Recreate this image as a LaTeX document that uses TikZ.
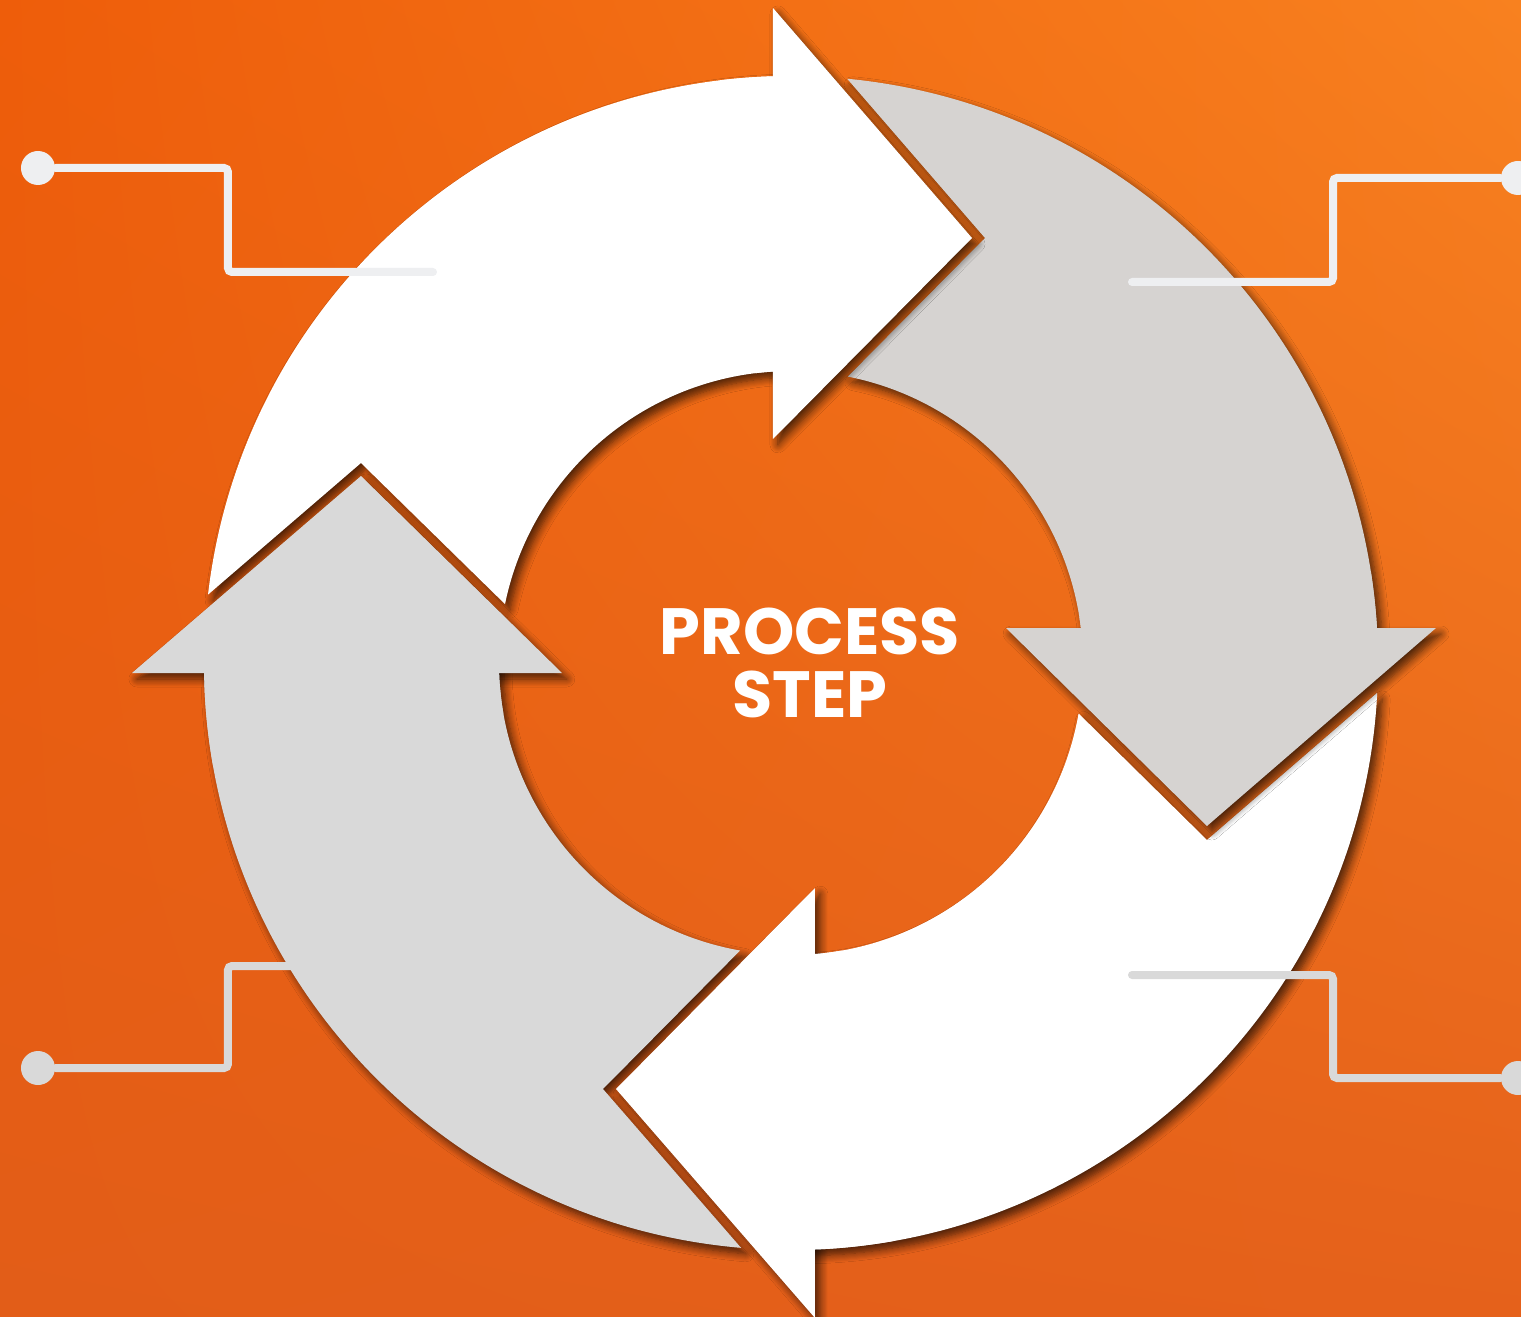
\documentclass[tikz,border=0pt]{standalone}
\usepackage{fontspec}
\newfontfamily\stepfont{Poppins}
\usetikzlibrary{shadings,shadows.blur}
\definecolor{bgtl}{HTML}{EE5D0A}
\definecolor{bgtr}{HTML}{F8811F}
\definecolor{bgbl}{HTML}{E25D18}
\definecolor{bgbr}{HTML}{E5611B}
\definecolor{warmgray}{HTML}{D6D3D1}
\definecolor{coolgray}{HTML}{D9D9D9}
\definecolor{lighttrace}{HTML}{EEEFF1}
\definecolor{darktrace}{HTML}{D9D9D9}
\tikzstyle{dot}=[circle,fill,inner sep=0pt,minimum size=0.34cm]
\tikzstyle{wire}=[line width=0.08cm,line cap=round,rounded corners=0.04cm]
\tikzstyle{softshadow}=[blur shadow={shadow xshift=0.05cm,shadow yshift=-0.06cm,shadow blur radius=0.08cm,shadow blur steps=8,shadow opacity=68}]
\begin{document}
\begin{tikzpicture}
        \shade[upper left=bgtl,upper right=bgtr,lower left=bgbl,lower right=bgbr] (-7.91,-6.53) rectangle (7.30,6.63);
        \useasboundingbox (-7.91,-6.53) rectangle (7.30,6.63);
        \fill[white,softshadow] (173.31:5.87) arc[start angle=173.31,end angle=90,radius=5.87] -- (90:2.92) arc[start angle=90,end angle=168.36,radius=2.92] -- (-4.30,2.00) -- cycle;
        \fill[warmgray,softshadow] (84.51:5.87) arc[start angle=84.51,end angle=3,radius=5.87] -- (3:2.92) arc[start angle=3,end angle=78.78,radius=2.92] -- (1.94,4.25) -- cycle;
        \fill[white,softshadow] (-2.91:5.87) arc[start angle=-2.91,end angle=-90,radius=5.87] -- (-90:2.92) arc[start angle=-90,end angle=-9.96,radius=2.92] -- (4.16,-1.77) -- cycle;
        \fill[coolgray,softshadow] (-94.88:5.87) arc[start angle=-94.88,end angle=-180,radius=5.87] -- (-180:2.92) arc[start angle=-180,end angle=-100.04,radius=2.92] -- (-1.88,-4.26) -- cycle;
        \fill[white,softshadow] (-0.18,6.55) -- (1.81,4.25) -- (-0.18,2.24) -- cycle;
        \fill[warmgray,softshadow] (2.15,0.35) -- (6.45,0.35) -- (4.16,-1.63) -- cycle;
        \fill[white,softshadow] (0.24,-2.25) -- (-1.75,-4.26) -- (0.24,-6.55) -- cycle;
        \fill[coolgray,softshadow] (-6.59,-0.10) -- (-4.30,1.87) -- (-2.29,-0.10) -- cycle;
        \fill[white] (97:5.87) arc[start angle=97,end angle=87,radius=5.87] -- (87:2.92) arc[start angle=87,end angle=97,radius=2.92] -- cycle;
        \fill[warmgray] (9:5.87) arc[start angle=9,end angle=0,radius=5.87] -- (0:2.92) arc[start angle=0,end angle=9,radius=2.92] -- cycle;
        \fill[white] (-80:5.87) arc[start angle=-80,end angle=-92,radius=5.87] -- (-92:2.92) arc[start angle=-92,end angle=-80,radius=2.92] -- cycle;
        \fill[coolgray] (-170:5.87) arc[start angle=-170,end angle=-182,radius=5.87] -- (-182:2.92) arc[start angle=-182,end angle=-170,radius=2.92] -- cycle;
        \node[text=white,align=center,font=\stepfont\bfseries\fontsize{18.6}{17.9}\selectfont] (title) at (0.19,0) {PROCESS\\STEP};
        \node[dot,lighttrace] (tl) at (-7.53,4.95) {};
        \node[dot,lighttrace] (tr) at (7.27,4.85) {};
        \node[dot,darktrace] (bl) at (-7.53,-4.05) {};
        \node[dot,darktrace] (br) at (7.27,-4.15) {};
        \coordinate (tlbend) at (-5.63,3.91);
        \coordinate (tlend) at (-3.58,3.91);
        \coordinate (trbend) at (5.42,3.81);
        \coordinate (trend) at (3.41,3.81);
        \coordinate (blbend) at (-5.63,-3.03);
        \coordinate (blend) at (-3.58,-3.03);
        \coordinate (brbend) at (5.42,-3.12);
        \coordinate (brend) at (3.41,-3.12);
        \draw[wire,lighttrace] (tl) -| (tlbend) -- (tlend);
        \draw[wire,lighttrace] (tr) -| (trbend) -- (trend);
        \draw[wire,darktrace] (bl) -| (blbend) -- (blend);
        \draw[wire,darktrace] (br) -| (brbend) -- (brend);
    \end{tikzpicture}
\end{document}
